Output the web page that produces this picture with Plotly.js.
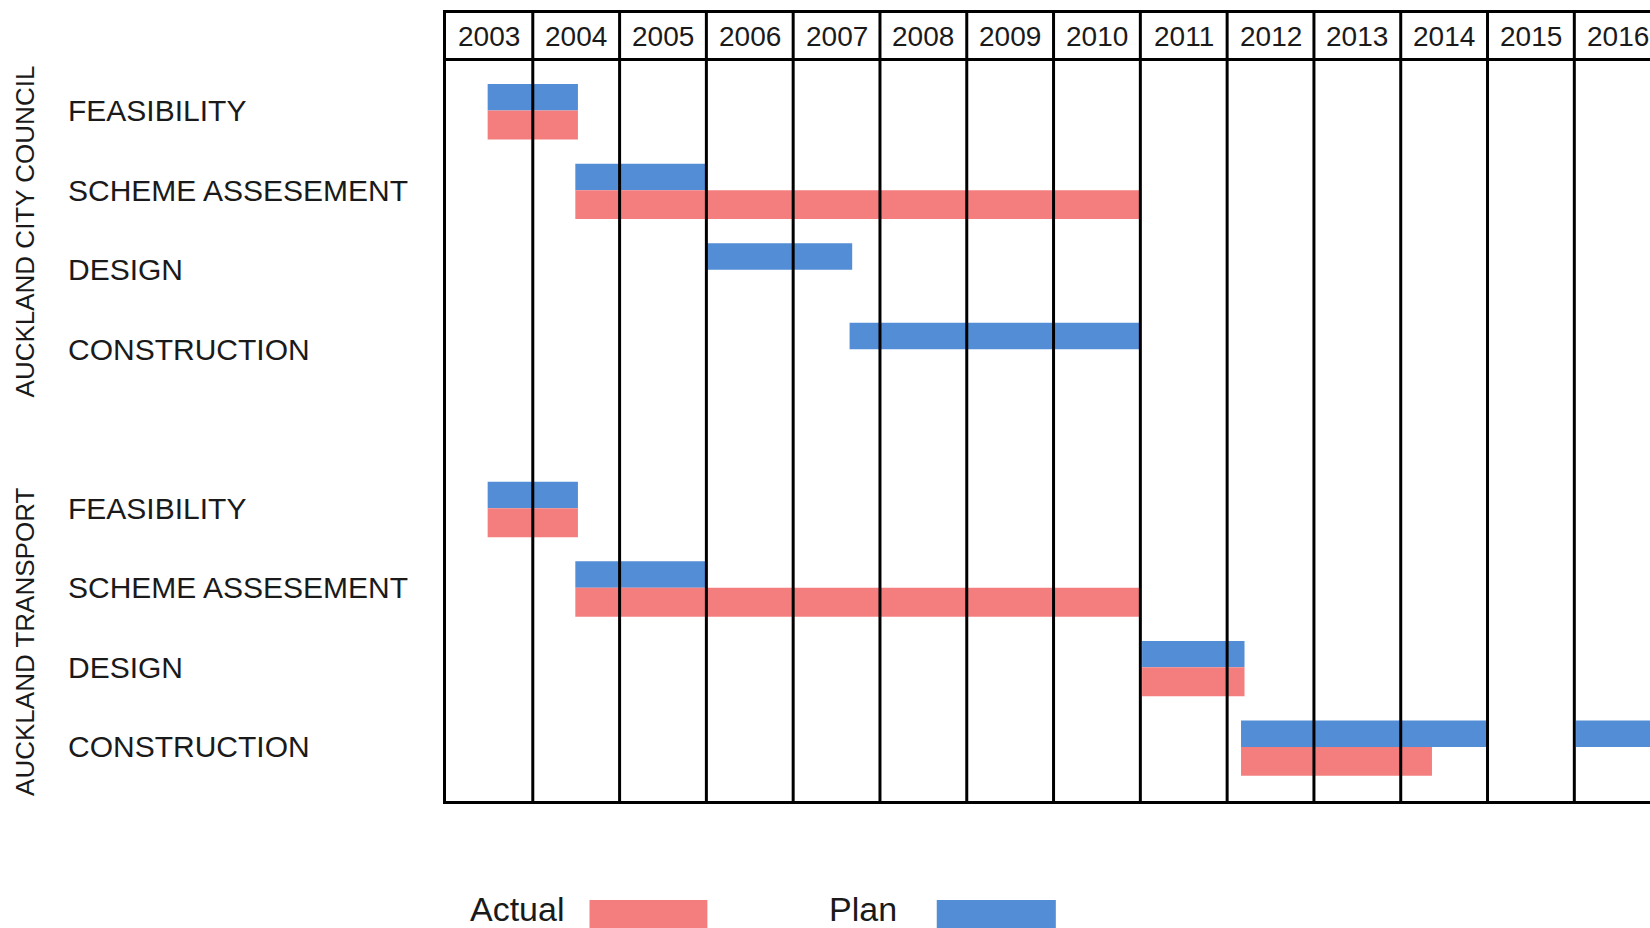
<!DOCTYPE html>
<html>
<head>
<meta charset="utf-8">
<script src="https://cdn.plot.ly/plotly-3.0.1.min.js"></script>
<style>
  html, body { margin: 0; padding: 0; background: #ffffff; }
  #chart { width: 1650px; height: 928px; }
</style>
</head>
<body>
<div id="chart"></div>
<script>
// ---- data ----
var years = [2003, 2004, 2005, 2006, 2007, 2008, 2009, 2010, 2011, 2012, 2013, 2014, 2015, 2016];
var yearLabels = ["2003", "2004", "2005", "2006", "2007", "2008", "2009", "2010", "2011", "2012", "2013", "2014", "2015", "2016"];

var rowLabels = ["FEASIBILITY", "SCHEME ASSESEMENT", "DESIGN", "CONSTRUCTION", "",
                 "FEASIBILITY", "SCHEME ASSESEMENT", "DESIGN", "CONSTRUCTION"];
var groupLabels = ["AUCKLAND CITY COUNCIL", "AUCKLAND TRANSPORT"];
var groupCenters = [1.52, 6.68];

var planRow   = [0, 1, 2, 3, 5, 6, 7, 8, 8];
var planStart = [2003.48, 2004.49, 2006.01, 2007.65, 2003.48, 2004.49, 2011.02, 2012.16, 2016.02];
var planEnd   = [2004.52, 2005.99, 2007.68, 2011.00, 2004.52, 2005.99, 2012.20, 2014.99, 2017.00];

var actualRow   = [0, 1, 5, 6, 7, 8];
var actualStart = [2003.48, 2004.49, 2003.48, 2004.49, 2011.02, 2012.16];
var actualEnd   = [2004.52, 2011.00, 2004.52, 2011.00, 2012.20, 2014.36];

var seriesNames  = ["Actual", "Plan"];
var seriesColors = ["#F47E7E", "#538DD5"];

// ---- traces ----
function dur(s, e) { return s.map(function (v, i) { return e[i] - v; }); }

var planTrace = {
  type: "bar", orientation: "h", name: seriesNames[1],
  y: planRow, base: planStart, x: dur(planStart, planEnd),
  offset: -0.333, width: 0.333,
  marker: { color: seriesColors[1], line: { width: 0 } },
  hoverinfo: "skip", showlegend: false
};
var actualTrace = {
  type: "bar", orientation: "h", name: seriesNames[0],
  y: actualRow, base: actualStart, x: dur(actualStart, actualEnd),
  offset: 0, width: 0.364,
  marker: { color: seriesColors[0], line: { width: 0 } },
  hoverinfo: "skip", showlegend: false
};

var FONT = "Liberation Sans, Arial, sans-serif";
var TXT = "#1a1a1a";

// ---- shapes ----
var shapes = [];
years.slice(1).forEach(function (yr) {
  shapes.push({ type: "line", xref: "x", yref: "paper", x0: yr, x1: yr, y0: 0, y1: 1,
                line: { color: "#000000", width: 3 }, layer: "above" });
});
shapes.push({ type: "line", xref: "paper", yref: "y", x0: 0, x1: 1, y0: -0.642, y1: -0.642,
              line: { color: "#000000", width: 3 }, layer: "above" });

// legend swatches
var legendBoxes = [[0.1192, 0.2171], [0.4076, 0.5065]];
var legendTextX = [0.0194, 0.3176];
[0, 1].forEach(function (k) {
  shapes.push({ type: "rect", xref: "paper", yref: "paper",
                x0: legendBoxes[k][0], x1: legendBoxes[k][1], y0: -0.175, y1: -0.1256,
                fillcolor: seriesColors[k], line: { width: 0 } });
});

// ---- annotations ----
var annotations = [];
rowLabels.forEach(function (lab, i) {
  if (!lab) return;
  annotations.push({ xref: "paper", yref: "y", x: -0.3152, y: i, text: lab,
                     xanchor: "left", yanchor: "middle", showarrow: false,
                     font: { family: FONT, size: 30, color: TXT } });
});
groupLabels.forEach(function (lab, i) {
  annotations.push({ xref: "paper", yref: "y", x: -0.3497, y: groupCenters[i], text: lab,
                     textangle: -90, xanchor: "center", yanchor: "middle", showarrow: false,
                     font: { family: FONT, size: 26, color: TXT } });
});
years.forEach(function (yr, i) {
  annotations.push({ xref: "x", yref: "y", x: yr + 0.5, y: -0.934, text: yearLabels[i],
                     xanchor: "center", yanchor: "middle", showarrow: false,
                     font: { family: FONT, size: 28, color: TXT } });
});
[0, 1].forEach(function (k) {
  annotations.push({ xref: "paper", yref: "paper", x: legendTextX[k], y: -0.1375,
                     text: seriesNames[k], xanchor: "left", yanchor: "middle", showarrow: false,
                     borderpad: 0,
                     font: { family: FONT, size: 34, color: TXT } });
});

var layout = {
  width: 1650, height: 928,
  margin: { l: 446, r: 0, t: 13, b: 127, pad: 0 },
  paper_bgcolor: "#ffffff", plot_bgcolor: "#ffffff",
  barmode: "overlay",
  showlegend: false,
  xaxis: {
    range: [2003, 2016.872], side: "top",
    showgrid: false, zeroline: false, showticklabels: false, ticks: "",
    showline: true, linecolor: "#000000", linewidth: 3, mirror: true, fixedrange: true
  },
  yaxis: {
    range: [8.68, -1.227],
    showgrid: false, zeroline: false, showticklabels: false, ticks: "",
    showline: true, linecolor: "#000000", linewidth: 3, mirror: false, fixedrange: true
  },
  shapes: shapes,
  annotations: annotations
};

Plotly.newPlot("chart", [planTrace, actualTrace], layout, { displayModeBar: false, staticPlot: true });
</script>
</body>
</html>
